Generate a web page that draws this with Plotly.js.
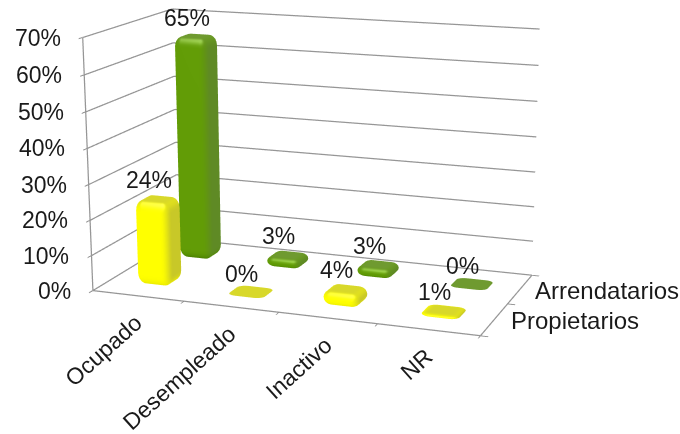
<!DOCTYPE html>
<html>
<head>
<meta charset="utf-8">
<script src="https://cdn.plot.ly/plotly-3.0.1.min.js"></script>
<style>
html,body{margin:0;padding:0;background:#fff;overflow:hidden;width:680px;height:434px}
#chart{position:absolute;left:0;top:-487px;width:680px;height:1408px}
</style>
</head>
<body>
<div id="chart"></div>
<script>
const categories = ['Ocupado', 'Desempleado', 'Inactivo', 'NR'];
const seriesNames = ['Propietarios', 'Arrendatarios'];
const propietarios = [24, 0, 4, 1];
const arrendatarios = [65, 3, 3, 0];
const zTicks = [0, 10, 20, 30, 40, 50, 60, 70];
const textFont = {family: '"Liberation Sans", Arial, sans-serif', size: 23, color: '#1a1a1a'};
const seriesFont = Object.assign({}, textFont, {size: 24});
const lineGray = '#969696';

// Face colours [r, g, b] of each series' bars.
const yellowFaces = {front: [255, 255, 0], side: [200, 200, 40], top: [216, 216, 42], under: [232, 232, 0]};
const greenFaces = {front: [98, 156, 6], side: [95, 138, 37], top: [111, 154, 48], under: [70, 124, 0]};

// Blend the face colours according to the direction a vertex looks at.
function shade(faces, nx, nz) {
  const top = Math.max(nz, 0) ** 2, under = Math.max(-nz, 0) ** 2;
  const side = (1 - nz * nz) * Math.max(nx, 0) ** 2;
  const front = Math.max(1 - top - under - side, 0);
  const c = [0, 1, 2].map(i => Math.round(
    top * faces.top[i] + under * faces.under[i] + side * faces.side[i] + front * faces.front[i]));
  return `rgb(${c[0]},${c[1]},${c[2]})`;
}

// Rounded, bevelled prism around (cx, cy) rising from the floor to the value.
function addBar(mesh, cx, cy, value, faces) {
  const hx = 0.19, hy = 0.17, rx = 0.09, ry = 0.08, bz = 3;
  const arc = 6, bevelSteps = 5;
  const outline = inset => {
    const pts = [];
    const corners = [[1, 1, 0], [-1, 1, 1], [-1, -1, 2], [1, -1, 3]];
    corners.forEach(([sx, sy, q]) => {
      for (let i = 0; i <= arc; i++) {
        const a = (q + i / arc) * Math.PI / 2;
        const shrink = inset * 0.95;
        pts.push([
          cx + sx * (hx - rx) + rx * (1 - shrink) * Math.cos(a),
          cy + sy * (hy - ry) + ry * (1 - shrink) * Math.sin(a),
          Math.cos(a)
        ]);
      }
    });
    return pts;
  };
  const levels = [];
  if (value > 0) {
    const b = Math.min(bz, value / 2);
    for (let i = 0; i <= bevelSteps; i++) {
      const a = (i / bevelSteps) * Math.PI / 2;
      levels.push([b * (1 - Math.cos(a)), 1 - Math.sin(a), -Math.cos(a)]);
    }
    for (let i = bevelSteps; i >= 0; i--) {
      const a = (i / bevelSteps) * Math.PI / 2;
      levels.push([value - b * (1 - Math.cos(a)), 1 - Math.sin(a), Math.cos(a)]);
    }
  } else {
    levels.push([0, 0, 1]);
  }
  const base = mesh.x.length;
  const n = outline(0).length;
  levels.forEach(([z, inset, nz]) => {
    outline(inset).forEach(([x, y, cosA]) => {
      mesh.x.push(x); mesh.y.push(y); mesh.z.push(z);
      mesh.vertexcolor.push(shade(faces, cosA * Math.sqrt(1 - nz * nz), nz));
    });
  });
  for (let l = 0; l + 1 < levels.length; l++) {
    for (let k = 0; k < n; k++) {
      const a = base + l * n + k, b = base + l * n + (k + 1) % n;
      const c = a + n, d = b + n;
      mesh.i.push(a, a); mesh.j.push(b, d); mesh.k.push(d, c);
    }
  }
  // top cap as a fan
  const top = mesh.x.length;
  mesh.x.push(cx); mesh.y.push(cy); mesh.z.push(value);
  mesh.vertexcolor.push(shade(faces, 0, 1));
  const lastRing = base + (levels.length - 1) * n;
  for (let k = 0; k < n; k++) {
    mesh.i.push(top); mesh.j.push(lastRing + k); mesh.k.push(lastRing + (k + 1) % n);
  }
}

function seriesMesh(values, yPos, faces) {
  const mesh = {type: 'mesh3d', x: [], y: [], z: [], i: [], j: [], k: [], vertexcolor: [],
    flatshading: false, hoverinfo: 'skip', showscale: false,
    lighting: {ambient: 1, diffuse: 0, specular: 0.2, roughness: 0.3, fresnel: 0},
    lightposition: {x: 60, y: -200, z: 160}};
  values.forEach((v, i) => addBar(mesh, i, yPos, v, faces));
  return mesh;
}

// Wall gridlines and floor edges, wider than the scene's own hairlines.
const xMin = -0.5, xMax = 3.5, yMin = -0.5, yMax = 1.5, zMax = 70;
const frame = {type: 'scatter3d', mode: 'lines', x: [], y: [], z: [], hoverinfo: 'skip',
  line: {color: lineGray, width: 2.5}, connectgaps: false};
const seg = (x0, y0, z0, x1, y1, z1) => {
  frame.x.push(x0, x1, null); frame.y.push(y0, y1, null); frame.z.push(z0, z1, null);
};
zTicks.forEach(t => {
  seg(xMin, yMin, t, xMin, yMax, t);
  seg(xMin, yMax, t, xMax, yMax, t);
});
seg(xMin, yMin, 0, xMax, yMin, 0);
seg(xMax, yMin, 0, xMax, yMax, 0);
seg(xMin, yMin, 0, xMin, yMin, zMax);

const annotations = [];
const note = (x, y, z, text, extra) => annotations.push(Object.assign(
  {x, y, z, text, showarrow: false, font: textFont}, extra));

zTicks.forEach(t => note(xMin, yMin, t, t + '%', {xanchor: 'right', yanchor: 'middle', xshift: -20}));
categories.forEach((c, i) => note(i, yMin, 0, c, {textangle: -42, xanchor: 'right', yanchor: 'top', xshift: 12, yshift: -11}));
note(xMax, 1, 0, seriesNames[1], {xanchor: 'left', yanchor: 'middle', xshift: 13, yshift: -1, font: seriesFont});
note(xMax, 0, 0, seriesNames[0], {xanchor: 'left', yanchor: 'middle', xshift: 15, yshift: -1, font: seriesFont});
propietarios.forEach((v, i) => note(i, 0, v, v + '%', {xanchor: 'center', yanchor: 'bottom', xshift: -9, yshift: 3}));
arrendatarios.forEach((v, i) => note(i, 1, v, v + '%', {xanchor: 'center', yanchor: 'bottom', xshift: -9, yshift: 3}));

const axisBase = {showbackground: false, showgrid: false, zeroline: false, showspikes: false,
  showticklabels: false, showline: false, ticks: 'outside',
  tickcolor: '#8a8a8a', ticklen: 6, tickwidth: 2, title: {text: ''}};

// A hair of padding keeps lines lying exactly on the box faces from being clipped.
const pad = 0.003;
const layout = {
  paper_bgcolor: '#fff',
  margin: {l: 0, r: 0, t: 0, b: 0},
  showlegend: false,
  scene: {
    domain: {x: [0, 1], y: [0, 1]},
    aspectmode: 'manual',
    aspectratio: {x: 1.006, y: 0.503, z: 0.64},
    camera: {
      projection: {type: 'perspective'},
      up: {x: 0, y: 0, z: 1},
      center: {x: 0.071, y: -0.0139, z: -0.136},
      eye: {x: 1.462, y: -3.860, z: 0.983}
    },
    xaxis: Object.assign({}, axisBase, {range: [xMin - pad, xMax + pad], tickvals: [-0.5, 0.5, 1.5, 2.5, 3.5]}),
    yaxis: Object.assign({}, axisBase, {range: [yMin - pad, yMax + pad], tickvals: [-0.5, 0.5, 1.5]}),
    zaxis: Object.assign({}, axisBase, {range: [-pad * 10, zMax + pad * 10], tickvals: zTicks}),
    annotations
  }
};

Plotly.newPlot('chart', [
  frame,
  seriesMesh(propietarios, 0, yellowFaces),
  seriesMesh(arrendatarios, 1, greenFaces)
], layout, {displayModeBar: false});
</script>
</body>
</html>
